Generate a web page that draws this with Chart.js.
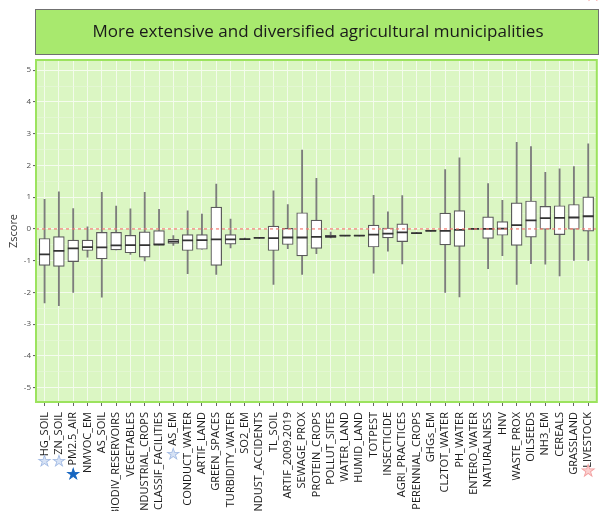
<!DOCTYPE html>
<html><head><meta charset="utf-8">
<script src="https://cdn.jsdelivr.net/npm/chart.js@4.4.0/dist/chart.umd.min.js"></script>
<style>html,body{margin:0;padding:0;background:#fff;overflow:hidden}canvas{display:block}</style>
</head><body>
<canvas id="c" width="604" height="511"></canvas>
<script>
const categories = ['HG_SOIL','ZN_SOIL','PM2.5_AIR','NMVOC_EM','AS_SOIL','BIODIV_RESERVOIRS','VEGETABLES','INDUSTRIAL_CROPS','CLASSIF_FACILITIES','AS_EM','CONDUCT_WATER','ARTIF_LAND','GREEN_SPACES','TURBIDITY_WATER','SO2_EM','INDUST_ACCIDENTS','TL_SOIL','ARTIF_2009.2019','SEWAGE_PROX','PROTEIN_CROPS','POLLUT_SITES','WATER_LAND','HUMID_LAND','TOTPEST','INSECTICIDE','AGRI_PRACTICES','PERENNIAL_CROPS','GHGs_EM','CL2TOT_WATER','PH_WATER','ENTERO_WATER','NATURALNESS','HNV','WASTE_PROX','OILSEEDS','NH3_EM','CEREALS','GRASSLAND','LIVESTOCK'];
const whiskerLow  = [-2.33,-2.42,-2.00,-0.89,-2.15,-0.66,-0.80,-1.01,-0.50,-0.52,-1.41,-0.64,-1.43,-0.60,-0.34,-0.29,-1.75,-0.62,-1.43,-0.78,-0.28,-0.22,-0.22,-1.39,-0.70,-1.10,-0.15,-0.07,-2.00,-2.14,-0.01,-1.25,-0.84,-1.75,-1.09,-1.11,-1.48,-0.99,-0.99];
const quartile1   = [-1.15,-1.18,-1.03,-0.68,-0.94,-0.66,-0.75,-0.89,-0.50,-0.46,-0.68,-0.64,-1.15,-0.48,-0.33,-0.29,-0.68,-0.49,-0.85,-0.61,-0.27,-0.21,-0.21,-0.57,-0.28,-0.40,-0.14,-0.065,-0.50,-0.55,-0.005,-0.30,-0.20,-0.52,-0.26,-0.01,-0.18,-0.01,-0.07];
const medians     = [-0.80,-0.69,-0.61,-0.57,-0.58,-0.52,-0.51,-0.51,-0.49,-0.40,-0.36,-0.35,-0.33,-0.33,-0.32,-0.28,-0.29,-0.27,-0.27,-0.25,-0.24,-0.21,-0.21,-0.18,-0.15,-0.11,-0.13,-0.06,-0.06,-0.03,0.00,0.00,0.01,0.12,0.27,0.34,0.35,0.36,0.40];
const quartile3   = [-0.30,-0.24,-0.35,-0.35,-0.11,-0.11,-0.20,-0.09,-0.05,-0.33,-0.18,-0.18,0.69,-0.18,-0.31,-0.27,0.09,0.02,0.51,0.28,-0.20,-0.20,-0.20,0.12,0.03,0.16,-0.12,-0.055,0.50,0.58,0.005,0.38,0.23,0.82,0.88,0.71,0.73,0.77,1.01];
const whiskerHigh = [0.93,1.17,0.64,0.07,1.15,0.72,0.63,1.15,0.62,-0.21,0.57,0.47,1.41,0.31,-0.29,-0.27,1.20,0.77,2.48,1.59,-0.10,-0.20,-0.20,1.06,0.54,1.05,-0.11,-0.05,1.87,2.24,0.01,1.43,0.90,2.73,2.59,1.78,1.89,1.96,2.68];
const yTickLabels = [-5,-4,-3,-2,-1,0,1,2,3,4,5];
const referenceLine = 0;
const titleText = 'More extensive and diversified agricultural municipalities';
const starMarks = [
  {cat:'HG_SOIL', fill:'#d6e2f5', stroke:'#a3bbe4', y:462, size:15},
  {cat:'ZN_SOIL', fill:'#d6e2f5', stroke:'#a3bbe4', y:462, size:15},
  {cat:'PM2.5_AIR', fill:'#1565c0', stroke:'#1565c0', y:475, size:15},
  {cat:'AS_EM', fill:'#d6e2f5', stroke:'#a3bbe4', y:455, size:15},
  {cat:'LIVESTOCK', fill:'#fbd0d0', stroke:'#f3a0a0', y:472, size:16}
];

const idx = categories.map((_, i) => i);
const yTickValues = [];
yTickLabels.forEach((v, i) => { yTickValues.push(v); if (i < yTickLabels.length - 1) yTickValues.push((v + yTickLabels[i+1]) / 2); });

const panelPlugin = {
  id: 'panel',
  beforeDraw(chart) {
    const {ctx, chartArea: a} = chart;
    ctx.save();
    ctx.fillStyle = '#a8e96e';
    ctx.fillRect(35.5, 9.5, 563, 45);
    ctx.strokeStyle = '#707070';
    ctx.lineWidth = 1;
    ctx.strokeRect(35.5, 9.5, 563, 45);
    ctx.fillStyle = '#1a1a1a';
    ctx.font = '17px "Open Sans"';
    ctx.textAlign = 'center';
    ctx.textBaseline = 'middle';
    ctx.fillText(titleText, 318, 32);
    ctx.fillStyle = '#dbf6c3';
    ctx.fillRect(a.left, a.top, a.right - a.left, a.bottom - a.top);
    ctx.restore();
  },
  afterDatasetsDraw(chart) {
    const {ctx, chartArea: a, scales} = chart;
    const y0 = scales.y.getPixelForValue(referenceLine);
    ctx.save();
    ctx.strokeStyle = '#f27a70';
    ctx.lineWidth = 1.2;
    ctx.setLineDash([3, 3]);
    ctx.beginPath();
    ctx.moveTo(a.left, y0);
    ctx.lineTo(a.right, y0);
    ctx.stroke();
    ctx.restore();
  },
  afterDraw(chart) {
    const {ctx, chartArea: a, scales} = chart;
    ctx.save();
    ctx.strokeStyle = '#9ce35e';
    ctx.lineWidth = 2;
    ctx.strokeRect(a.left, a.top, a.right - a.left, a.bottom - a.top);
    ctx.textAlign = 'center';
    ctx.textBaseline = 'middle';
    starMarks.forEach(s => {
      const x = scales.x.getPixelForValue(categories.indexOf(s.cat));
      ctx.font = s.size + 'px "DejaVu Sans"';
      ctx.fillStyle = s.fill;
      ctx.fillText('\u2605', x, s.y);
      ctx.strokeStyle = s.stroke;
      ctx.lineWidth = 0.8;
      ctx.strokeText('\u2605', x, s.y);
    });
    ctx.font = '16px "DejaVu Sans"';
    ctx.fillStyle = '#fde0e0';
    ctx.strokeStyle = '#f29090';
    ctx.fillText('\u2605', 593, -4);
    ctx.strokeText('\u2605', 593, -4);
    ctx.restore();
  }
};

new Chart(document.getElementById('c'), {
  data: {
    datasets: [
      {
        type: 'bar', label: 'whisker', grouped: false, order: 3,
        data: idx.map(i => ({x: i, y: [whiskerLow[i], whiskerHigh[i]]})),
        backgroundColor: '#7d7d7d', borderWidth: 0, barThickness: 1.2
      },
      {
        type: 'bar', label: 'box', grouped: false, order: 2,
        data: idx.map(i => ({x: i, y: [quartile1[i], quartile3[i]]})),
        backgroundColor: '#ffffff', borderColor: '#5a5a5a', borderWidth: 1.2, borderSkipped: false, barThickness: 10.8
      },
      {
        type: 'line', label: 'median', order: 1,
        data: idx.map(i => ({x: i, y: medians[i]})),
        showLine: false, pointStyle: 'line', pointRadius: 5.4, pointBorderWidth: 1.8,
        borderColor: '#333333', pointBorderColor: '#333333'
      }
    ]
  },
  options: {
    responsive: false,
    animation: false,
    devicePixelRatio: 1,
    layout: {padding: {top: 60, right: 4, left: 0, bottom: 0}},
    plugins: {legend: {display: false}, tooltip: {enabled: false}},
    scales: {
      x: {
        type: 'linear', min: -0.6, max: categories.length - 0.4, offset: false,
        afterBuildTicks: s => { s.ticks = idx.map(i => ({value: i})); },
        afterFit: s => { s.height = 109; s.paddingLeft = 0; s.paddingRight = 0; },
        border: {display: false},
        grid: {offset: false, color: '#f3fbeb', lineWidth: 1, tickColor: '#666', tickLength: 4},
        ticks: {
          autoSkip: false, minRotation: 90, maxRotation: 90, padding: 6,
          color: '#1a1a1a', font: {family: 'Open Sans', size: 11},
          callback: v => categories[v]
        }
      },
      y: {
        type: 'linear', min: -5.45, max: 5.32,
        afterBuildTicks: s => { s.ticks = yTickValues.map(v => ({value: v})); },
        afterFit: s => { s.width = 36; s.paddingTop = 0; s.paddingBottom = 0; },
        border: {display: false},
        grid: {
          color: c => Number.isInteger(c.tick.value) ? '#f5fcee' : '#eaf9dc',
          lineWidth: c => Number.isInteger(c.tick.value) ? 1.1 : 0.6,
          tickColor: c => Number.isInteger(c.tick.value) ? '#666' : 'rgba(0,0,0,0)',
          tickLength: 3
        },
        ticks: {
          autoSkip: false, padding: 2, color: '#4d4d4d', font: {family: 'Open Sans', size: 8},
          callback: v => Number.isInteger(v) ? String(v) : ''
        },
        title: {display: true, text: 'Zscore', color: '#333', font: {family: 'Open Sans', size: 11}, padding: {top: 7, bottom: 4}}
      }
    }
  },
  plugins: [panelPlugin]
});
</script>
</body></html>
